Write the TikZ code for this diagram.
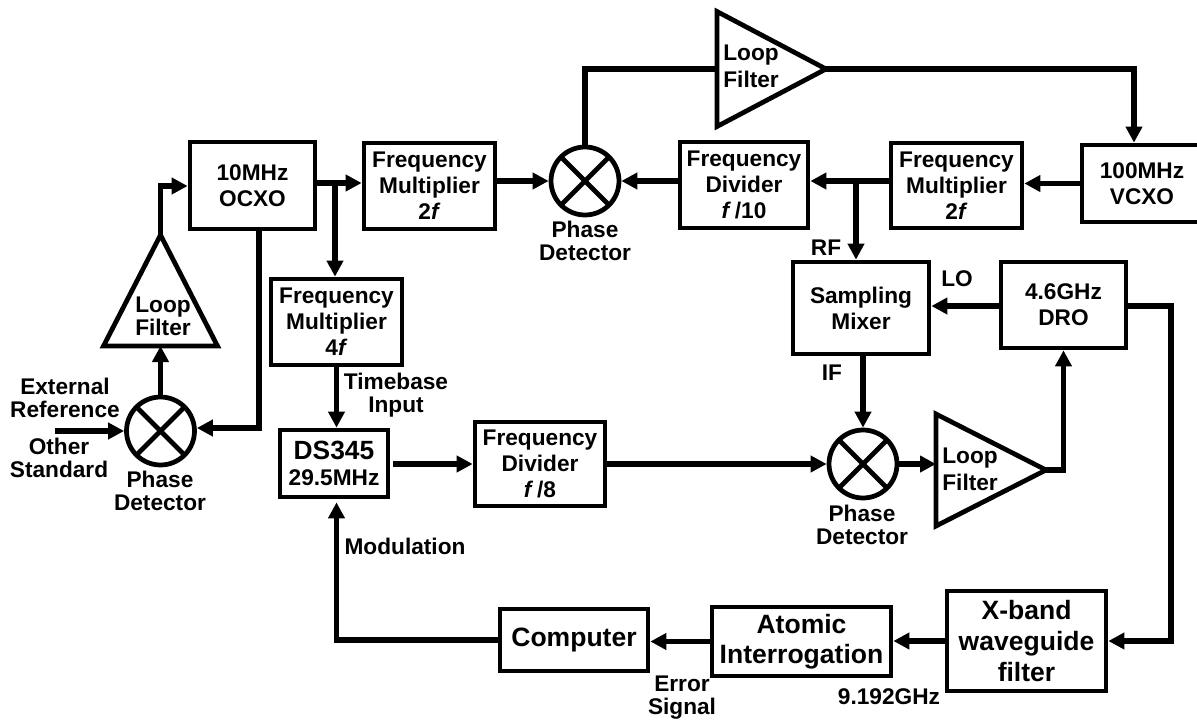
\documentclass[tikz,border=0pt]{standalone}
\usepackage{fontspec}
\setmainfont{Liberation Sans}
\usepackage{xcolor}
\usetikzlibrary{arrows.meta,shapes.geometric}

\begin{document}
\begin{tikzpicture}[
  x=0.02cm, y=-0.02cm,
  box/.style 2 args={draw, line width=2.7pt, inner sep=0pt, align=center,
    minimum width=#1cm, minimum height=#2cm,
    font=\fontsize{12.9}{14.8}\selectfont\bfseries},
  bigbox/.style 2 args={box={#1}{#2}, font=\fontsize{15.1}{17.4}\selectfont\bfseries},
  lbl/.style={align=center, inner sep=0pt,
    font=\fontsize{12.9}{13}\selectfont\bfseries},
  pd/.style={circle, draw, line width=2.7pt, minimum size=1.36cm, inner sep=0pt,
    path picture={\draw[line width=2.7pt]
      (path picture bounding box.north west) -- (path picture bounding box.south east)
      (path picture bounding box.north east) -- (path picture bounding box.south west);}},
  lf/.style 2 args={isosceles triangle, isosceles triangle stretches, draw,
    line width=2.7pt, inner sep=0pt, outer sep=0pt, anchor=lower side,
    minimum width=#1cm, minimum height=#2cm},
  arr/.style={-{Triangle[length=0.32cm, width=0.32cm]}, line width=3.3pt},
  wire/.style={line width=3.3pt}
]
\useasboundingbox (0,0) rectangle (1197,720);

% Upper row
\node[box={2.50}{1.74}] (OCXO) at (252.5,185.5) {10MHz\\OCXO};
\node[box={2.62}{1.72}] (FML)  at (429.5,186)   {Frequency\\Multiplier\\2\textit{f}};
\node[box={2.56}{1.72}] (FDa)  at (744,185)     {Frequency\\Divider\\\textit{f}\,/10};
\node[box={2.62}{1.70}] (FMR)  at (956.5,185.5) {Frequency\\Multiplier\\2\textit{f}};
\node[box={2.40}{1.54}] (VCXO) at (1142,183.5)  {100MHz\\VCXO};

% Middle blocks
\node[box={2.62}{1.72}] (FMC)  at (336.5,322)   {Frequency\\Multiplier\\4\textit{f}};
\node[box={2.72}{1.84}] (SM)   at (861,308)     {Sampling\\Mixer};
\node[box={2.50}{1.72}] (DRO)  at (1063.5,305)  {4.6GHz\\DRO};
\node[box={2.16}{1.34}] (DS)   at (334,463.5)
  {{\fontsize{15}{17}\selectfont DS345}\\29.5MHz};
\node[box={2.60}{1.68}] (FDb)  at (540,464)     {Frequency\\Divider\\\textit{f}\,/8};

% Lower row
\node[bigbox={2.96}{1.24}] (CP) at (574,640)     {Computer};
\node[bigbox={3.58}{1.38}] (AI) at (801.5,641.5) {Atomic\\Interrogation};
\node[bigbox={3.18}{2.00}] (XB) at (1026.5,641)  {X-band\\waveguide\\filter};

% Phase detectors
\node[pd] (PDa) at (160.5,431) {};
\node[pd] (PDb) at (585,181)   {};
\node[pd] (PDc) at (863,464)   {};

% Loop filters
\node[lf={2.28}{2.22}, shape border rotate=90] (LFa) at (160.5,346) {};
\node[lf={2.30}{2.18}] (LFb) at (717,69)  {};
\node[lf={2.24}{2.20}] (LFc) at (936,470) {};
\node[lbl] (LFaT) at (163,316) {Loop\\Filter};
\node[lbl, align=left, anchor=west, font=\fontsize{12.9}{15.2}\selectfont\bfseries] (LFbT) at (723,66)  {Loop\\Filter};
\node[lbl, align=left, anchor=west, font=\fontsize{12.9}{15.2}\selectfont\bfseries] (LFcT) at (942,469) {Loop\\Filter};

% Labels
\node[lbl] (PDaT) at (160,491) {Phase\\Detector};
\node[lbl] (PDbT) at (585,241) {Phase\\Detector};
\node[lbl] (PDcT) at (862,525) {Phase\\Detector};
\node[lbl] (ExtT) at (65,398)  {External\\Reference};
\node[lbl] (OthT) at (59,458)  {Other\\Standard};
\node[lbl] (TbT)  at (396,395) {Timebase\\Input};
\node[lbl] (RFT)  at (826,248) {RF};
\node[lbl] (LOT)  at (957,279) {LO};
\node[lbl] (IFT)  at (832,373) {IF};
\node[lbl] (ModT) at (405,546) {Modulation};
\node[lbl] (ErrT) at (682,698) {Error\\Signal};
\node[lbl] (GHzT) at (889,697) {9.192GHz};

\coordinate (Ext)  at (55,431);
\coordinate (TapA) at (335,183);
\coordinate (TapB) at (856,181);
\coordinate (TapC) at (161,186);
\coordinate (TopV) at (1134,69);
\coordinate (Fbk)  at (259,428);
\coordinate (Rgt)  at (1171,306);

% OCXO loop
\draw[arr] (Ext) -- (PDa.west);
\draw[arr] (PDa.north) -- (LFa.lower side);
\draw[arr] (LFa.apex) |- (OCXO.west |- TapC);
\draw[arr] (OCXO.south -| Fbk) -- (Fbk) -- (PDa.east |- Fbk);
\draw[arr] (OCXO.east |- TapA) -- (FML.west |- TapA);
\draw[arr] (TapA) -- (TapA |- FMC.north);
\draw[arr] (FMC.south) -- (FMC.south |- DS.north);

% VCXO loop
\draw[arr] (FML.east |- PDb.west) -- (PDb.west);
\draw[arr] (FDa.west |- PDb.east) -- (PDb.east);
\draw[wire] (PDb.north) |- (LFb.lower side);
\draw[arr] (LFb.apex) -- (TopV) -- (TopV |- VCXO.north);
\draw[arr] (VCXO.west) -- (FMR.east |- VCXO.west);
\draw[arr] (FMR.west |- TapB) -- (FDa.east |- TapB);
\draw[arr] (TapB) -- (TapB |- SM.north);

% DRO loop
\draw[arr] (DRO.west |- Rgt) -- (SM.east |- Rgt);
\draw[arr] (SM.south -| PDc.north) -- (PDc.north);
\draw[arr, shorten <=0.05cm] (DS.east |- FDb.west) -- (FDb.west);
\draw[arr] (FDb.east) -- (PDc.west);
\draw[arr] (PDc.east) -- (LFc.lower side |- PDc.east);
\draw[arr] (LFc.apex) -| (DRO.south);

% Interrogation path
\draw[arr] (DRO.east |- Rgt) -- (Rgt) |- (XB.east);
\draw[arr] (XB.west) -- (AI.east |- XB.west);
\draw[arr] (AI.west) -- (CP.east |- AI.west);
\draw[arr, shorten >=0.06cm] (CP.west) -| (FMC.south |- DS.south);
\end{tikzpicture}
\end{document}
